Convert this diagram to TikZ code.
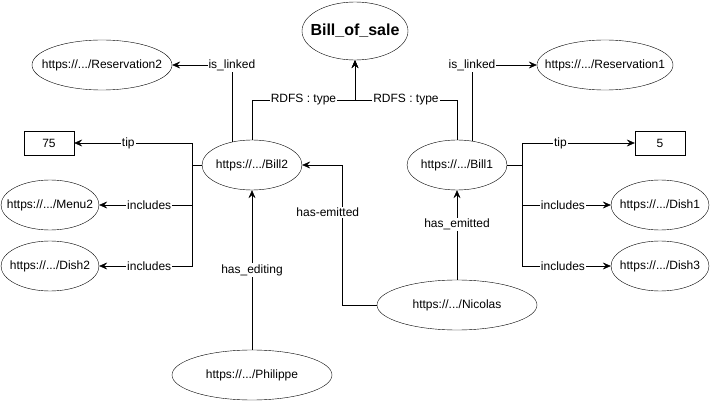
\documentclass[tikz,border=0pt]{standalone}
\usepackage{fontspec}
\setmainfont{Liberation Sans}
\usetikzlibrary{
arrows.meta,
positioning,
shapes.geometric
}

\begin{document}
\begin{tikzpicture}[
x=1pt, y=-1pt,
font=\fontsize{12pt}{14pt}\selectfont,
uri/.style={
ellipse,
draw,
fill=white,
inner xsep=-20pt,
inner ysep=0pt,
minimum width=100pt,
minimum height=50pt
},
literal/.style={
rectangle,
draw,
fill=white,
inner sep=0pt,
minimum width=50pt,
minimum height=24pt
},
arrow/.style={-{Stealth[length=8pt,width=7pt,inset=3pt]}},
lbl/.style={fill=white,inner sep=1pt}
]
\useasboundingbox[fill=white] (0,0) rectangle (710,401);

\node[uri, minimum width=106pt, minimum height=58pt, font=\fontsize{16pt}{18pt}\selectfont\bfseries] (sale) at (355,31) {Bill\_of\_sale};
\node[uri, minimum width=140pt] (res2) at (102,65) {https://.../Reservation2};
\node[uri, minimum width=136pt] (res1) at (605,65) {https://.../Reservation1};
\node[uri] (bill2) at (252,165) {https://.../Bill2};
\node[uri] (bill1) at (457,165) {https://.../Bill1};
\node[literal] (n75) at (49,143) {75};
\node[literal] (n5) at (660,143) {5};
\node[uri, minimum width=98pt] (menu2) at (50,205) {https://.../Menu2};
\node[uri, minimum width=98pt] (dish2) at (50,266) {https://.../Dish2};
\node[uri, minimum width=98pt] (dish1) at (660,205) {https://.../Dish1};
\node[uri, minimum width=98pt] (dish3) at (660,266) {https://.../Dish3};
\node[uri, minimum width=160pt] (nicolas) at (457,305) {https://.../Nicolas};
\node[uri, minimum width=160pt] (philippe) at (252,375) {https://.../Philippe};

% Bill2
\draw[arrow] (bill2.131) |- node[lbl]{is\_linked} (res2.east);
\draw[arrow] (bill2.north) -- ++(0,-40) -| node[lbl,pos=0.25]{RDFS : type} (sale.south);
\draw[arrow] (bill2.west) -- ++(-10,0) |- node[lbl,pos=0.77]{tip} (n75.east);
\draw[arrow] (bill2.west) -- ++(-10,0) |- node[lbl,pos=0.73]{includes} (menu2.east);
\draw[arrow] (bill2.west) -- ++(-10,0) |- node[lbl,pos=0.73]{includes} (dish2.east);

% Bill1
\draw[arrow] (bill1.north) -- ++(0,-40) -| node[lbl,pos=0.25]{RDFS : type} (sale.south);
\draw[arrow] (bill1.58) |- node[lbl]{is\_linked} (res1.west);
\draw[arrow] (bill1.east) -- ++(15,0) |- node[lbl,pos=0.67]{tip} (n5.west);
\draw[arrow] (bill1.east) -- ++(15,0) |- node[lbl,pos=0.73]{includes} (dish1.west);
\draw[arrow] (bill1.east) -- ++(15,0) |- node[lbl,pos=0.73]{includes} (dish3.west);

% persons
\draw[arrow] (nicolas.north) -- node[lbl,pos=0.62]{has\_emitted} (bill1.south);
\draw[arrow] (nicolas.west) -- ++(-35,0) |- node[lbl,pos=0.33,xshift=-14pt]{has-emitted} (bill2.east);
\draw[arrow] (philippe.north) -- node[lbl]{has\_editing} (bill2.south);

\end{tikzpicture}
\end{document}
